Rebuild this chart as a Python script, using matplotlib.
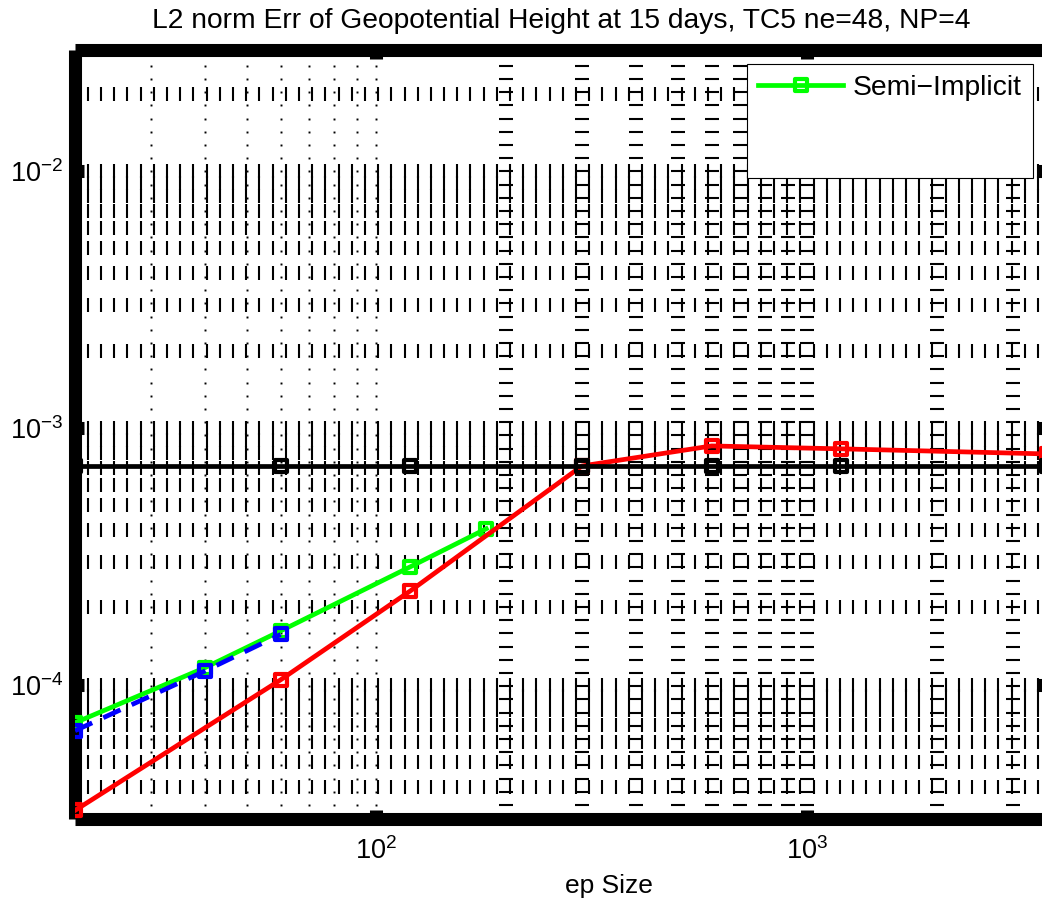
import numpy as np
import matplotlib
matplotlib.use("Agg")
import matplotlib.pyplot as plt
from matplotlib.lines import Line2D
from matplotlib.markers import MarkerStyle
from matplotlib.transforms import blended_transform_factory

plt.rcParams['font.family'] = ['Liberation Sans', 'DejaVu Sans']
plt.rcParams['mathtext.fontset'] = 'custom'
plt.rcParams['mathtext.rm'] = 'Liberation Sans'
plt.rcParams['mathtext.default'] = 'regular'

# step sizes and L2 errors
x_semi = [20, 40, 60, 120, 180]
y_semi = [7.11e-5, 1.164e-4, 1.62e-4, 2.88e-4, 4.05e-4]

x_blue = [20, 40, 60]
y_blue = [6.62e-5, 1.13e-4, 1.57e-4]

x_red = [20, 60, 120, 300, 600, 1200, 3600]
y_red = [3.24e-5, 1.045e-4, 2.32e-4, 7.11e-4, 8.51e-4, 8.29e-4, 7.92e-4]

x_black = [20, 60, 120, 300, 600, 1200, 3600]
y_black = [7.11e-4, 7.11e-4, 7.11e-4, 7.11e-4, 7.11e-4, 7.11e-4, 7.11e-4]

xlim = (20, 3600)
ylim = (3e-5, 2.95e-2)

# grid columns: dotted below 200, dashed ("_") from 200 up
dot_cols = [30, 40, 50, 60, 70, 80, 90, 100]
dash_cols = [200, 300, 400, 500, 600, 700, 800, 900, 1000, 2000, 3000]

title = "L2 norm Err of Geopotential Height at 15 days, TC5 ne=48, NP=4"

fig = plt.figure(figsize=(10.42, 9), dpi=100)
ax = fig.add_axes([0.07198, 0.09, 0.93282, 0.85389])
ax.set_xscale('log')
ax.set_yscale('log')

# the broken-looking MATLAB grid
y_grid = [m * 10.0 ** e for e in range(-5, -1) for m in range(1, 10)
          if ylim[0] * 1.02 < m * 10.0 ** e < ylim[1] * 0.98]
row_tr = blended_transform_factory(ax.transAxes, ax.transData)
col_tr = blended_transform_factory(ax.transData, ax.transAxes)
bar_x = np.arange(0.01307, 1.0, 0.01358)
dash_y = np.arange(0.9802, 0.0, -0.01718)
for yv in y_grid:
    ax.plot(bar_x, np.full_like(bar_x, yv), ls='none', marker='|', ms=10,
            mew=1.5, color='k', transform=row_tr, zorder=1)
for xv in dash_cols:
    ax.plot(np.full_like(dash_y, xv), dash_y, ls='none', marker='_', ms=9.5,
            mew=1.5, color='k', transform=col_tr, zorder=1)
for xv in dot_cols:
    ax.plot(np.full_like(dash_y, xv), dash_y, ls='none', marker='s', ms=1.4,
            mew=0, color='k', transform=col_tr, zorder=1)

sq = MarkerStyle('s', joinstyle='round')
common = dict(lw=3.4, marker=sq, ms=8.3, mew=3, mfc='none')
l_semi, = ax.plot(x_semi, y_semi, color='#00ff00', mec='#00ff00', zorder=3, **common)
ax.plot(x_red, y_red, color='#ff0000', mec='#ff0000', zorder=4, **common)
ax.plot(x_blue, y_blue, color='#0000ff', mec='#0000ff', ls=(0, (4, 2.6)), zorder=5, **common)
ax.plot(x_black, y_black, color='k', mec='k', zorder=6, **common)

ax.set_xlim(xlim)
ax.set_ylim(ylim)

for sp in ax.spines.values():
    sp.set_linewidth(9.4)
    sp.set_capstyle('butt')
ax.tick_params(which='major', direction='in', length=6.5, width=9.4,
               top=True, right=True, labelsize=19.5)
ax.tick_params(which='minor', length=0)
ax.tick_params(axis='y', pad=8.5)
ax.tick_params(axis='x', pad=13)

ax.set_title(title, fontsize=20.3, pad=16)
ax.set_xlabel('ep Size', fontsize=19)
ax.xaxis.set_label_coords(0.5494, -0.0963)
ax.xaxis.label.set_va('baseline')

blank = Line2D([], [], color='none')
leg = ax.legend([l_semi, blank, blank], ['Semi\u2212Implicit', ' ', ' '],
                loc='upper right', bbox_to_anchor=(0.9856, 0.9824),
                borderaxespad=0, fontsize=20.3, handlelength=3.0,
                handletextpad=0.35, borderpad=0.4, labelspacing=0.23,
                fancybox=False, framealpha=1, edgecolor='k', numpoints=1)
leg.get_frame().set_linewidth(0.8)
leg.set_zorder(10)

fig.savefig('out.png', dpi=100)
